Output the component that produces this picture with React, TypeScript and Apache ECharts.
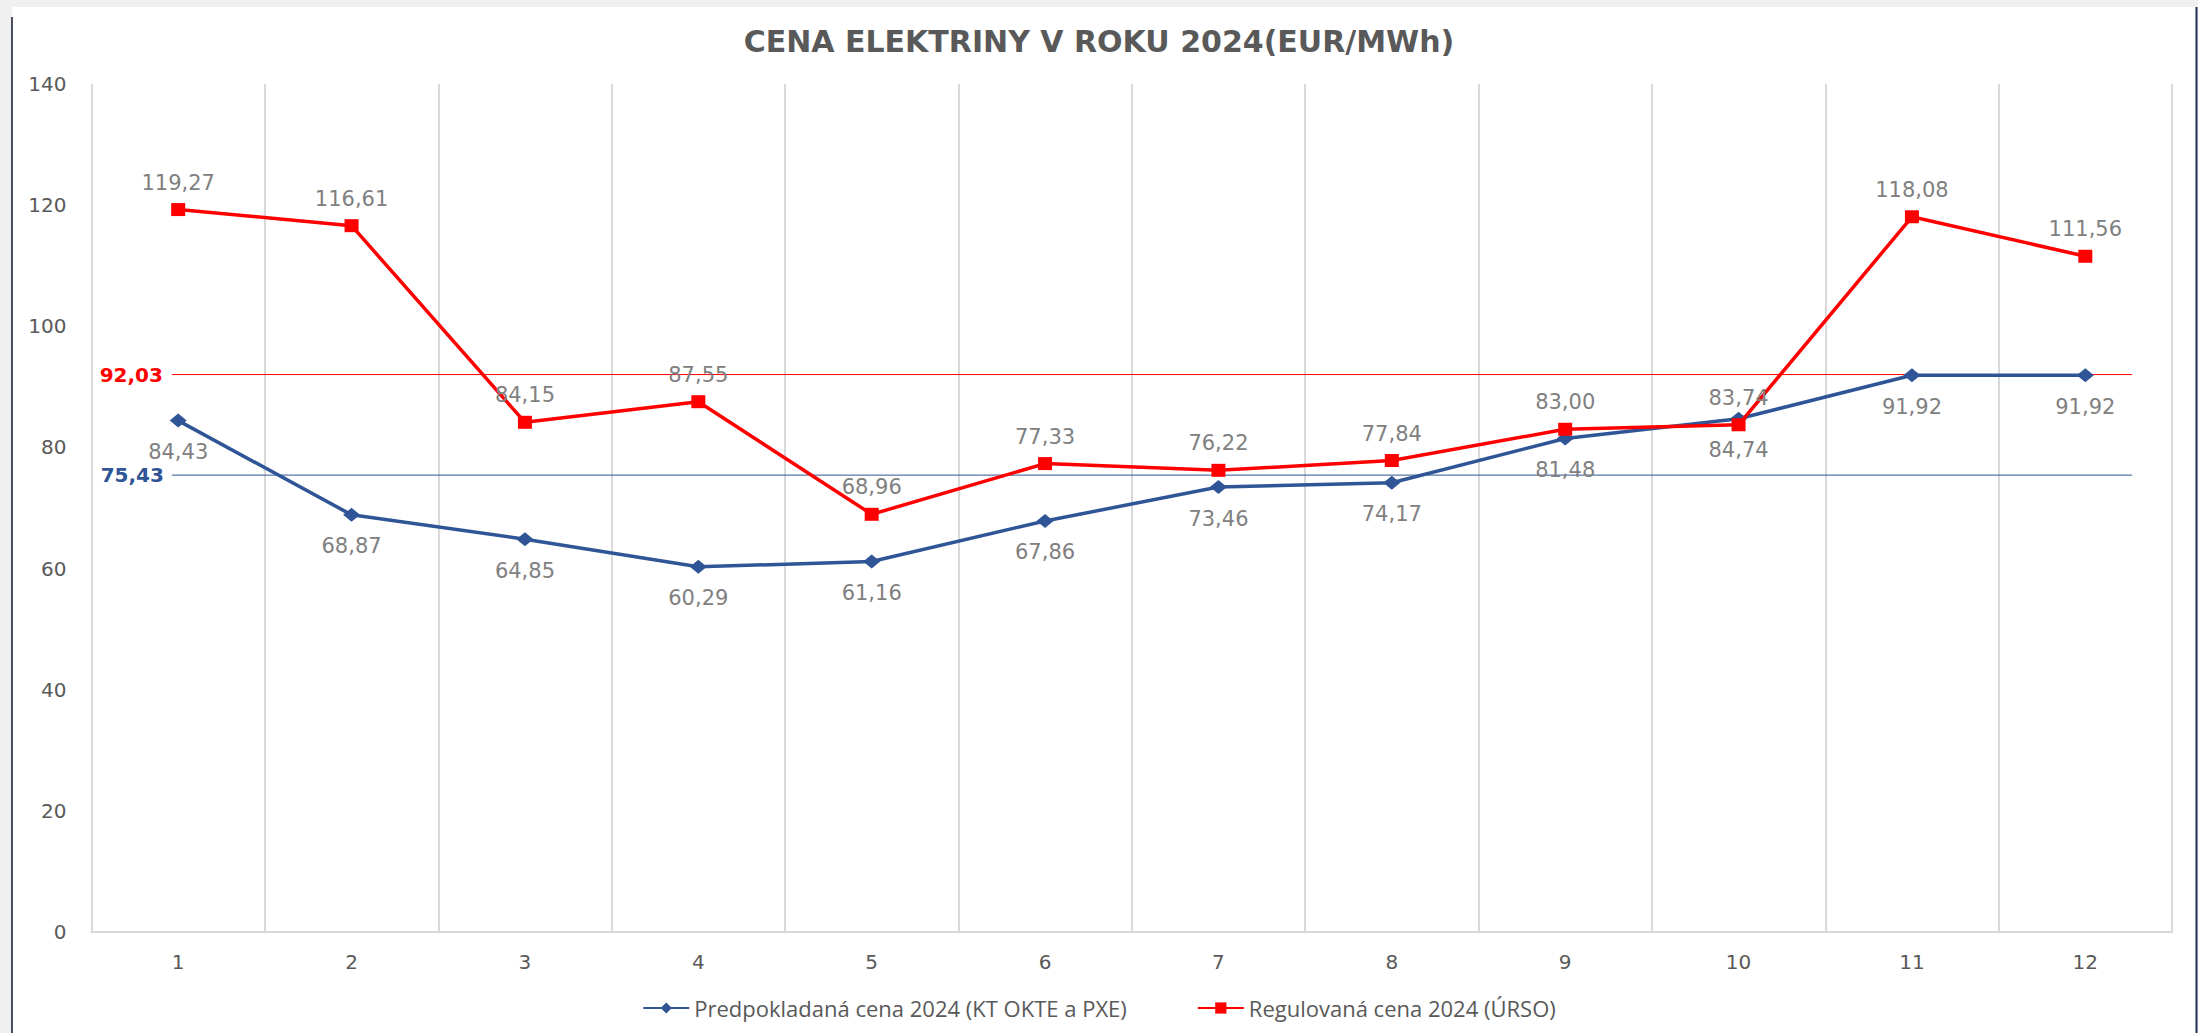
import React, { useEffect, useRef } from "react";
import * as echarts from "echarts";

const months = ["1", "2", "3", "4", "5", "6", "7", "8", "9", "10", "11", "12"];
const predicted = [84.43, 68.87, 64.85, 60.29, 61.16, 67.86, 73.46, 74.17, 81.48, 84.74, 91.92, 91.92];
const regulated = [119.27, 116.61, 84.15, 87.55, 68.96, 77.33, 76.22, 77.84, 83.0, 83.74, 118.08, 111.56];
const averages = [75.43, 92.03];
const seriesNames = ["Predpokladaná cena 2024 (KT OKTE a PXE)", "Regulovaná cena 2024 (ÚRSO)"];
const yTicks = [0, 20, 40, 60, 80, 100, 120, 140];

const BLUE = "#2f5597";
const RED = "#ff0000";
const FONT = "Open Sans";
const NUMFONT = "DejaVu Sans";

const fmt = (v: number) => v.toFixed(2).replace(".", ",");

export default function App() {
  const ref = useRef<HTMLDivElement>(null);
  useEffect(() => {
    if (!ref.current) return;
    const chart = echarts.init(ref.current, null, { renderer: "svg" });
    const avgLine = (val: number, color: string, labelDist: number) => ({
      type: "line",
      xAxisIndex: 1,
      yAxisIndex: 0,
      symbol: "circle",
      symbolSize: 0,
      showSymbol: true,
      silent: true,
      lineStyle: { color, width: 1 },
      itemStyle: { color },
      label: { show: false },
      data: [
        {
          value: [0.964, val],
          label: {
            show: true,
            position: "left",
            distance: labelDist,
            formatter: () => fmt(val),
            color,
            fontFamily: NUMFONT,
            fontWeight: "bold",
            fontSize: 20,
          },
        },
        { value: [12.27, val] },
      ],
      z: 1,
    });
    chart.setOption({
      animation: false,
      backgroundColor: "#f0f0f0",
      graphic: [
        { type: "rect", shape: { x: 12, y: 7, width: 2184, height: 1026 }, style: { fill: "#ffffff" }, z: -10 },
        { type: "line", shape: { x1: 12, y1: 17, x2: 12, y2: 1033 }, style: { stroke: "#4a4f66", lineWidth: 2 }, z: -9 },
        { type: "line", shape: { x1: 2196.5, y1: 7, x2: 2196.5, y2: 1033 }, style: { stroke: "#1f3050", lineWidth: 2 }, z: -9 },
      ],
      title: {
        text: "CENA ELEKTRINY V ROKU 2024(EUR/MWh)",
        left: "center",
        top: 21,
        textStyle: { fontFamily: "DejaVu Sans", fontWeight: "bold", fontSize: 30, color: "#595959" },
      },
      legend: {
        bottom: 9,
        left: "center",
        itemGap: 70,
        itemWidth: 46,
        itemHeight: 14,
        data: seriesNames,
        textStyle: { fontFamily: FONT, fontSize: 22, color: "#595959" },
      },
      grid: { left: 91.5, right: 26, top: 84, bottom: 101, containLabel: false },
      xAxis: [
        {
          type: "category",
          data: months,
          boundaryGap: true,
          axisLine: { show: true, lineStyle: { color: "#d9d9d9", width: 2 } },
          axisTick: { show: false },
          splitLine: { show: true, lineStyle: { color: "#d9d9d9", width: 2 } },
          axisLabel: { fontFamily: NUMFONT, fontSize: 20, color: "#595959", margin: 20 },
        },
        { type: "value", min: 0.5, max: 12.5, show: false },
      ],
      yAxis: {
        type: "value",
        min: yTicks[0],
        max: yTicks[yTicks.length - 1],
        interval: 20,
        axisLine: { show: false },
        axisTick: { show: false },
        splitLine: { show: false },
        axisLabel: { fontFamily: NUMFONT, fontSize: 20, color: "#595959", margin: 25 },
      },
      series: [
        avgLine(averages[1], RED, 9),
        avgLine(averages[0], BLUE, 8),
        {
          name: seriesNames[0],
          type: "line",
          data: predicted,
          symbol: "diamond",
          symbolSize: [17, 14],
          itemStyle: { color: BLUE },
          lineStyle: { color: BLUE, width: 3.5 },
          label: {
            show: true,
            position: "bottom",
            distance: 14,
            formatter: (p: any) => fmt(p.value),
            color: "#808080",
            fontFamily: NUMFONT,
            fontSize: 21,
          },
          z: 3,
        },
        {
          name: seriesNames[1],
          type: "line",
          data: regulated,
          symbol: "rect",
          symbolSize: [14, 13],
          itemStyle: { color: RED },
          lineStyle: { color: RED, width: 3.5 },
          label: {
            show: true,
            position: "top",
            distance: 10,
            formatter: (p: any) => fmt(p.value),
            color: "#808080",
            fontFamily: NUMFONT,
            fontSize: 21,
          },
          z: 4,
        },
      ],
    });
    return () => chart.dispose();
  }, []);
  return <div ref={ref} style={{ position: "fixed", left: 0, top: 0, width: 2198, height: 1033 }} />;
}
